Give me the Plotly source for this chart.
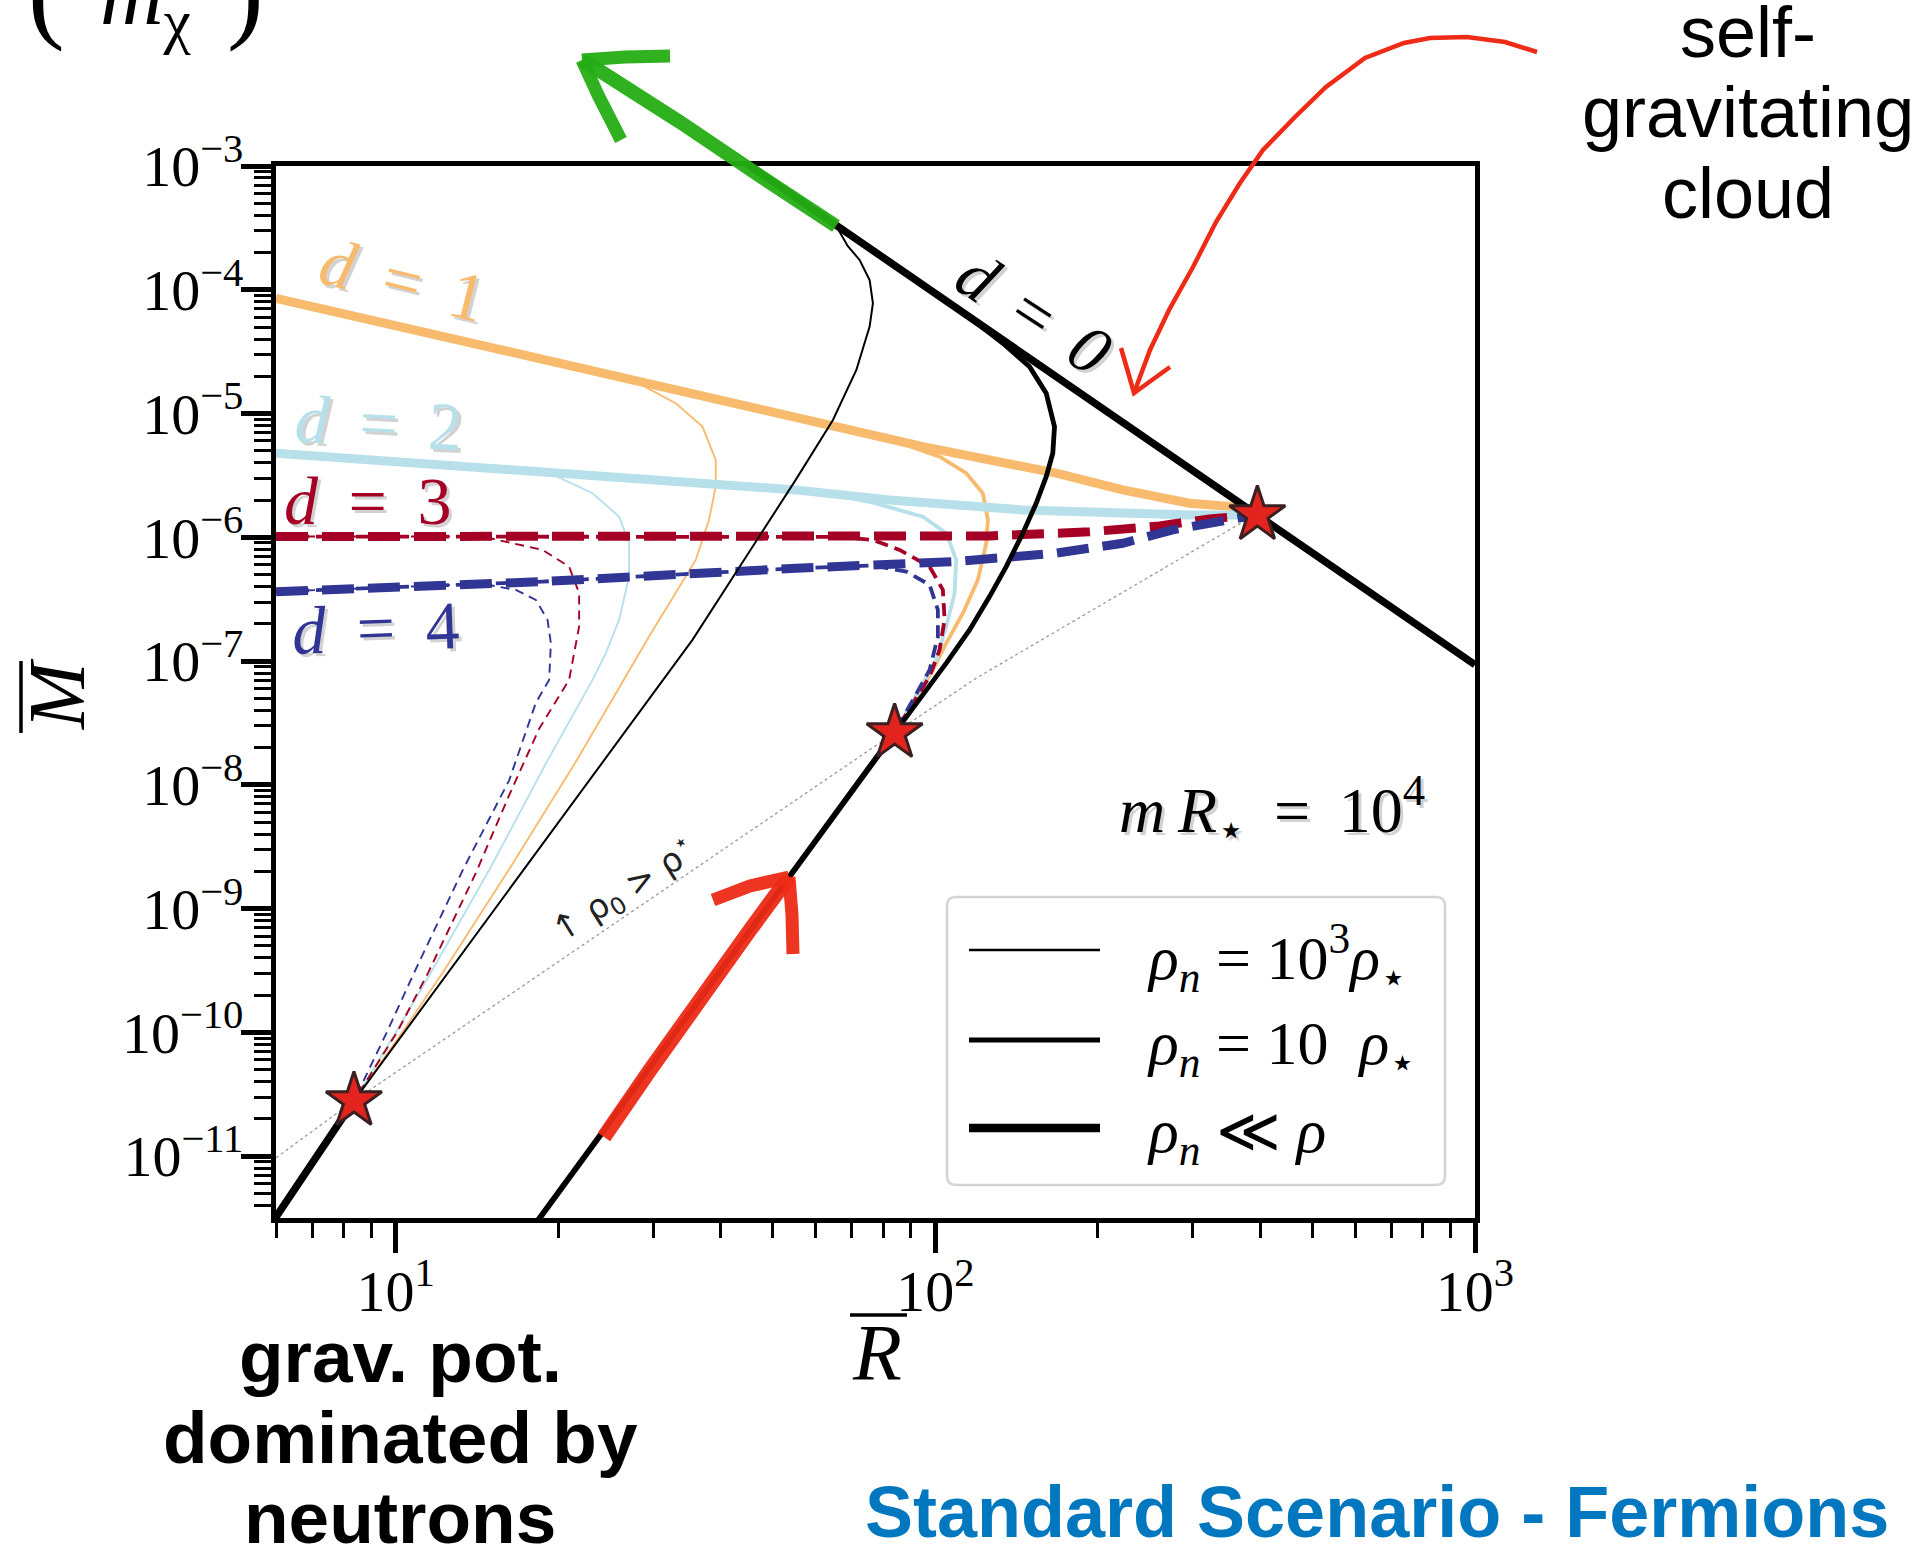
import math
import plotly.graph_objects as go

# ---------------- data : log10(R̄) and log10(M̄) along each curve ----------------
# d = 0 : self-gravitating branch
d0_logR = [1.60, 3.00]
d0_logM = [-2.83, -7.03]

# rho_n << rho (thick curves)
d1_thick_logR = [0.7782, 1.7412, 1.9769, 2.2239, 2.3473, 2.4708, 2.5504, 2.5967]
d1_thick_logM = [-4.069, -5.025, -5.267, -5.482, -5.617, -5.725, -5.752, -5.819]
d2_thick_logR = [0.7782, 1.2102, 1.3954, 1.7412, 1.9152, 2.1621, 2.3473, 2.4708, 2.5967]
d2_thick_logM = [-5.321, -5.442, -5.510, -5.617, -5.698, -5.779, -5.811, -5.819, -5.819]
d3_thick_logR = [0.7782, 1.7301, 2.1004, 2.2856, 2.4152, 2.5078, 2.5967]
d3_thick_logM = [-5.994, -5.994, -5.989, -5.956, -5.908, -5.851, -5.819]
d4_thick_logR = [0.7782, 1.2721, 1.7412, 2.0387, 2.2239, 2.3473, 2.4399, 2.5325, 2.5967]
d4_thick_logM = [-6.439, -6.358, -6.250, -6.196, -6.128, -6.048, -5.940, -5.859, -5.819]

# rho_n = 10 rho_star (medium curves)
d1_med_logR = [0.7782, 1.7412, 1.9338, 2.0078, 2.0573, 2.0880, 2.0973, 2.0943, 2.0788, 2.0510, 2.0202, 1.9954, 1.9245]
d1_med_logM = [-4.069, -5.025, -5.235, -5.348, -5.482, -5.644, -5.859, -6.048, -6.344, -6.613, -6.855, -7.071, -7.580]
d2_med_logR = [0.7782, 1.2102, 1.3954, 1.7412, 1.8000, 1.8843, 1.9769, 2.0202, 2.0387, 2.0356, 2.0202, 2.0017, 1.9245]
d2_med_logM = [-5.321, -5.442, -5.510, -5.617, -5.645, -5.720, -5.833, -5.967, -6.183, -6.452, -6.721, -6.990, -7.580]
d3_med_logR = [0.7782, 1.7301, 1.8226, 1.8843, 1.9338, 1.9893, 2.0139, 2.0171, 2.0078, 1.9893, 1.9245]
d3_med_logM = [-5.994, -5.994, -5.997, -6.021, -6.102, -6.237, -6.425, -6.667, -6.910, -7.125, -7.580]
d4_med_logR = [0.7782, 1.2721, 1.7412, 1.8843, 1.9462, 1.9893, 2.0047, 2.0047, 1.9893, 1.9245]
d4_med_logM = [-6.439, -6.358, -6.250, -6.228, -6.277, -6.384, -6.586, -6.802, -7.071, -7.580]
bk_med_logR = [1.9500, 2.0500, 2.1251, 2.1745, 2.2054, 2.2208, 2.2176, 2.2054, 2.1869, 2.1621,
               2.1313, 2.1004, 2.0634, 2.0202, 1.9245]
bk_med_logM = [-3.879, -4.179, -4.432, -4.621, -4.836, -5.106, -5.321, -5.510, -5.725, -5.967,
               -6.237, -6.479, -6.748, -7.017, -7.580]
bk_med_low_logR = [1.9245, 1.3769, 1.2500]
bk_med_low_logM = [-7.580, -10.833, -11.600]

# rho_n = 10^3 rho_star (thin curves)
d1_thin_logR = [0.7782, 1.4000, 1.4449, 1.5189, 1.5684, 1.5930, 1.5930, 1.5806, 1.5560, 1.5189,
                1.4695, 1.3338, 1.2102, 1.0869, 1.0128, 0.9226]
d1_thin_logM = [-4.069, -4.686, -4.745, -4.917, -5.106, -5.375, -5.590, -5.859, -6.183, -6.452,
                -6.802, -7.814, -8.682, -9.519, -9.995, -10.553]
d2_thin_logR = [0.7782, 1.2102, 1.2843, 1.3647, 1.4139, 1.4325, 1.4325, 1.4139, 1.3893, 1.3647,
                1.2800, 1.1740, 1.0650, 1.0010, 0.9226]
d2_thin_logM = [-5.321, -5.442, -5.480, -5.644, -5.833, -6.048, -6.317, -6.667, -6.936, -7.152,
                -7.814, -8.682, -9.519, -9.995, -10.553]
d3_thin_logR = [0.7782, 1.1610, 1.2721, 1.3213, 1.3399, 1.3399, 1.3213, 1.2658, 1.2102, 1.1486,
                1.0600, 1.0030, 0.9226]
d3_thin_logM = [-5.994, -5.994, -6.102, -6.237, -6.452, -6.721, -7.152, -7.546, -8.084, -8.711,
                -9.519, -9.995, -10.553]
d4_thin_logR = [0.7782, 1.1610, 1.2226, 1.2597, 1.2813, 1.2875, 1.2843, 1.2597, 1.2102, 1.1250,
                1.0340, 0.9840, 0.9226]
d4_thin_logM = [-6.439, -6.376, -6.425, -6.506, -6.667, -6.855, -7.152, -7.337, -7.964, -8.682,
                -9.519, -9.995, -10.553]
bk_thin_logR = [0.9226, 1.5499, 1.7412, 1.8102, 1.8536, 1.8782, 1.8843, 1.8782, 1.8597, 1.8375,
                1.8150, 1.7000]
bk_thin_logM = [-10.553, -6.829, -5.536, -5.052, -4.648, -4.298, -4.109, -3.921, -3.759, -3.646,
                -3.474, -3.129]
bk_low_logR = [0.7000, 0.9226]
bk_low_logM = [-12.000, -10.553]

# rho_0 = rho_star boundary and the marked transition points
rho_logR = [0.7782, 0.9226, 1.9245, 2.0757, 2.5800]
rho_logM = [-11.013, -10.553, -7.580, -7.138, -5.850]
star_logR = [0.9226, 1.9245, 2.5967]
star_logM = [-10.553, -7.580, -5.819]

# axis ticks
y_major = [10.0 ** e for e in range(-11, -2)]
y_labels = ["10<sup>\u2212%d</sup>" % (-e) for e in range(-11, -2)]
x_major = [10, 100, 1000]
x_labels = ["10<sup>1</sup>", "10<sup>2</sup>", "10<sup>3</sup>"]

# ---------------- figure geometry ----------------
W, H = 1927, 1551
L, T, PW, PH = 276, 166, 1199, 1052
SERIF = "Liberation Serif"
SANS = "Liberation Sans"

ORANGE = "#f8bb6e"
LBLUE = "#b7e0eb"
DRED = "#a50026"
DBLUE = "#313695"
RED = "#ee2b17"
GREEN = "#24ad15"


def px(x, y):
    """figure pixel position -> paper coordinates"""
    return (x - L) / PW, (T + PH - y) / PH


def lin(v):
    return [10.0 ** a for a in v]


fig = go.Figure()


def curve(lr, lm, color, width, dash="solid"):
    fig.add_trace(go.Scatter(x=lin(lr), y=lin(lm), mode="lines",
                             line=dict(color=color, width=width, dash=dash),
                             hoverinfo="skip", showlegend=False))


TH_D, MD_D, TN_D = "32px,14px", "13px,7px", "9px,6px"

curve(rho_logR, rho_logM, "#9a9a9a", 1.3, "dot")

# thin family
curve(d1_thin_logR, d1_thin_logM, ORANGE, 1.9)
curve(d2_thin_logR, d2_thin_logM, LBLUE, 1.9)
curve(d3_thin_logR, d3_thin_logM, DRED, 1.9, TN_D)
curve(d4_thin_logR, d4_thin_logM, DBLUE, 1.9, TN_D)
# medium family
curve(d1_med_logR, d1_med_logM, ORANGE, 3.8)
curve(d2_med_logR, d2_med_logM, LBLUE, 3.8)
curve(d3_med_logR, d3_med_logM, DRED, 3.8, MD_D)
curve(d4_med_logR, d4_med_logM, DBLUE, 3.8, MD_D)
# thick family
curve(d1_thick_logR, d1_thick_logM, ORANGE, 9)
curve(d2_thick_logR, d2_thick_logM, LBLUE, 9)
curve(d3_thick_logR, d3_thick_logM, DRED, 9, TH_D)
curve(d4_thick_logR, d4_thick_logM, DBLUE, 9, TH_D)
# black curves
curve(bk_thin_logR, bk_thin_logM, "black", 2)
curve(bk_low_logR, bk_low_logM, "black", 7.5)
curve(bk_med_logR, bk_med_logM, "black", 4.8)
curve(bk_med_low_logR, bk_med_low_logM, "black", 5.8)
curve(d0_logR, d0_logM, "black", 7.5)

fig.add_trace(go.Scatter(x=lin(star_logR), y=lin(star_logM), mode="markers",
                         marker=dict(symbol="star", size=42, color="#e3231d",
                                     line=dict(color="#3a2020", width=3)),
                         hoverinfo="skip", showlegend=False))

# ---------------- annotations ----------------
ann = []


def text(x, y, s, size, color="black", family=SERIF, angle=0, xanchor="center",
         yanchor="middle", shadow=False):
    if shadow:
        sx, sy = px(x + 3, y + 3)
        ann.append(dict(x=sx, y=sy, xref="paper", yref="paper", text=s, showarrow=False,
                        font=dict(family=family, size=size, color="#d2d2d2"),
                        textangle=angle, xanchor=xanchor, yanchor=yanchor))
    xp, yp = px(x, y)
    ann.append(dict(x=xp, y=yp, xref="paper", yref="paper", text=s, showarrow=False,
                    font=dict(family=family, size=size, color=color),
                    textangle=angle, xanchor=xanchor, yanchor=yanchor))


SP = "\u00a0\u2009"
text(403, 280, "<i>d</i>" + SP + "=" + SP + "1", 68, ORANGE, angle=14, shadow=True)
text(379, 423, "<i>d</i>" + SP + "=" + SP + "2", 68, LBLUE, angle=3, shadow=True)
text(368, 501, "<i>d</i>" + SP + "=" + SP + "3", 68, DRED, shadow=True)
text(376, 628, "<i>d</i>" + SP + "=" + SP + "4", 68, DBLUE, angle=-2, shadow=True)
text(1034, 313, "<i>d</i>" + SP + "=" + SP + "<i>0</i>", 68, "black", angle=33, shadow=True)
text(1272, 810, "<i>m</i>\u2009<i>R</i><sub>\u22c6</sub>" + SP + "=" + SP + "10<sup>4</sup>",
     64, "black", shadow=True)
text(623, 890, "\u2191 \u03c1<sub>0</sub> > \u03c1<sup>\u22c6</sup>", 34, "#222222",
     family="DejaVu Sans", angle=-32)

# axis titles
text(877, 1353, "<i>R</i>", 80)
text(57, 694, "<i>M</i>", 80, angle=-90)
text(46, -9, "(", 110)
text(245, -9, ")", 110)
text(146, 0, "<i>m</i><sub>\u03c7</sub>", 88)

# side notes
text(1748, 32, "self-", 72, family=SANS)
text(1748, 112, "gravitating", 72, family=SANS)
text(1748, 193, "cloud", 72, family=SANS)
text(400, 1356, "<b>grav. pot.</b>", 73, family=SANS)
text(400, 1437, "<b>dominated by</b>", 73, family=SANS)
text(400, 1517, "<b>neutrons</b>", 73, family=SANS)
text(1377, 1512, "<b>Standard Scenario - Fermions</b>", 72, "#0077be", family=SANS)

# legend entries
leg_rows = [(957, "<i>\u03c1<sub>n</sub></i> = 10<sup>3</sup><i>\u03c1</i><sub>\u22c6</sub>", 2.5),
            (1047, "<i>\u03c1<sub>n</sub></i> = 10\u2002<i>\u03c1</i><sub>\u22c6</sub>", 5),
            (1135, "<i>\u03c1<sub>n</sub></i> \u226a <i>\u03c1</i>", 8.5)]
for yy, lab, _ in leg_rows:
    text(1145, yy, lab, 62, xanchor="left")

# ---------------- shapes ----------------
shapes = []


def seg_path(pts):
    out = []
    for i, (x, y) in enumerate(pts):
        xp, yp = px(x, y)
        out.append(("M" if i == 0 else "L") + "%.5f,%.5f" % (xp, yp))
    return " ".join(out)


def stroke(pts, color, width, opacity=1.0):
    shapes.append(dict(type="path", path=seg_path(pts), xref="paper", yref="paper",
                       line=dict(color=color, width=width), opacity=opacity, layer="above"))


def line_px(x0, y0, x1, y1, color="black", width=2):
    a, b = px(x0, y0)
    c, d = px(x1, y1)
    shapes.append(dict(type="line", x0=a, y0=b, x1=c, y1=d, xref="paper", yref="paper",
                       line=dict(color=color, width=width), layer="above"))


# rounded legend frame
x0, y0, x1, y1, r = 947, 897, 1445, 1185, 9
a0, b0 = px(x0, y0)
a1, b1 = px(x1, y1)
rx, ry = r / PW, r / PH
frame = ("M%.5f,%.5f L%.5f,%.5f Q%.5f,%.5f %.5f,%.5f L%.5f,%.5f Q%.5f,%.5f %.5f,%.5f "
         "L%.5f,%.5f Q%.5f,%.5f %.5f,%.5f L%.5f,%.5f Q%.5f,%.5f %.5f,%.5f Z") % (
    a0 + rx, b0, a1 - rx, b0, a1, b0, a1, b0 - ry, a1, b1 + ry, a1, b1, a1 - rx, b1,
    a0 + rx, b1, a0, b1, a0, b1 + ry, a0, b0 - ry, a0, b0, a0 + rx, b0)
shapes.append(dict(type="path", path=frame, xref="paper", yref="paper",
                   line=dict(color="#d4d4d4", width=2.5), fillcolor="rgba(255,255,255,0.85)",
                   layer="above"))
for yy, _, wdt in leg_rows:
    line_px(969, yy - 7, 1100, yy - 7, "black", wdt)

# overbars on the axis symbols
line_px(850, 1315, 907, 1315, "black", 3.5)
line_px(21, 661, 21, 733, "black", 3.5)

# green arrow along the d = 0 branch
stroke([(836, 226), (760, 176), (680, 122), (600, 71), (582, 60)], GREEN, 14, 0.95)
stroke([(582, 60), (625, 57), (670, 56)], GREEN, 13, 0.95)
stroke([(582, 60), (598, 95), (621, 140)], GREEN, 13, 0.95)

# red arrow rising along the medium branch
stroke([(604, 1137), (650, 1070), (700, 1000), (750, 930), (789, 877)], RED, 15, 0.95)
stroke([(789, 877), (750, 886), (713, 900)], RED, 13, 0.95)
stroke([(789, 877), (792, 915), (793, 954)], RED, 13, 0.95)

# curved red arrow pointing at the self-gravitating branch
stroke([(1537, 52), (1505, 42), (1467, 37), (1430, 38), (1404, 43), (1365, 58), (1326, 87),
        (1295, 117), (1263, 150), (1240, 183), (1216, 222), (1193, 267), (1169, 310),
        (1150, 350), (1134, 393)], RED, 4.5)
stroke([(1121, 348), (1128, 372), (1134, 393), (1152, 380), (1170, 367)], RED, 4.5)

fig.update_layout(
    width=W, height=H,
    margin=dict(l=L, r=W - L - PW, t=T, b=H - T - PH, pad=0),
    paper_bgcolor="white", plot_bgcolor="white",
    showlegend=False,
    annotations=ann, shapes=shapes,
    xaxis=dict(type="log", range=[math.log10(6), 3], showgrid=False, zeroline=False,
               showline=True, linecolor="black", linewidth=5, mirror=True,
               ticks="outside", ticklen=30, tickwidth=4.5, tickcolor="black",
               tickmode="array", tickvals=x_major, ticktext=x_labels,
               ticklabelstandoff=-12,
               tickfont=dict(family=SERIF, size=58, color="black"),
               minor=dict(tickmode="array",
                          tickvals=[k * 10 ** e for e in (0, 1, 2) for k in range(2, 10)
                                    if 6 <= k * 10 ** e <= 1000],
                          ticks="outside", ticklen=15, tickwidth=3, tickcolor="black",
                          showgrid=False)),
    yaxis=dict(type="log", range=[-11.5, -3], showgrid=False, zeroline=False,
               showline=True, linecolor="black", linewidth=5, mirror=True,
               ticks="outside", ticklen=30, tickwidth=4.5, tickcolor="black",
               tickmode="array", tickvals=y_major, ticktext=y_labels,
               ticklabelstandoff=-14,
               tickfont=dict(family=SERIF, size=58, color="black"),
               minor=dict(tickmode="array",
                          tickvals=[k * 10.0 ** e for e in range(-12, -3) for k in range(2, 10)
                                    if 10 ** -11.5 <= k * 10.0 ** e <= 1e-3],
                          ticks="outside", ticklen=17, tickwidth=3, tickcolor="black",
                          showgrid=False)),
)

fig.write_html("out.html")
